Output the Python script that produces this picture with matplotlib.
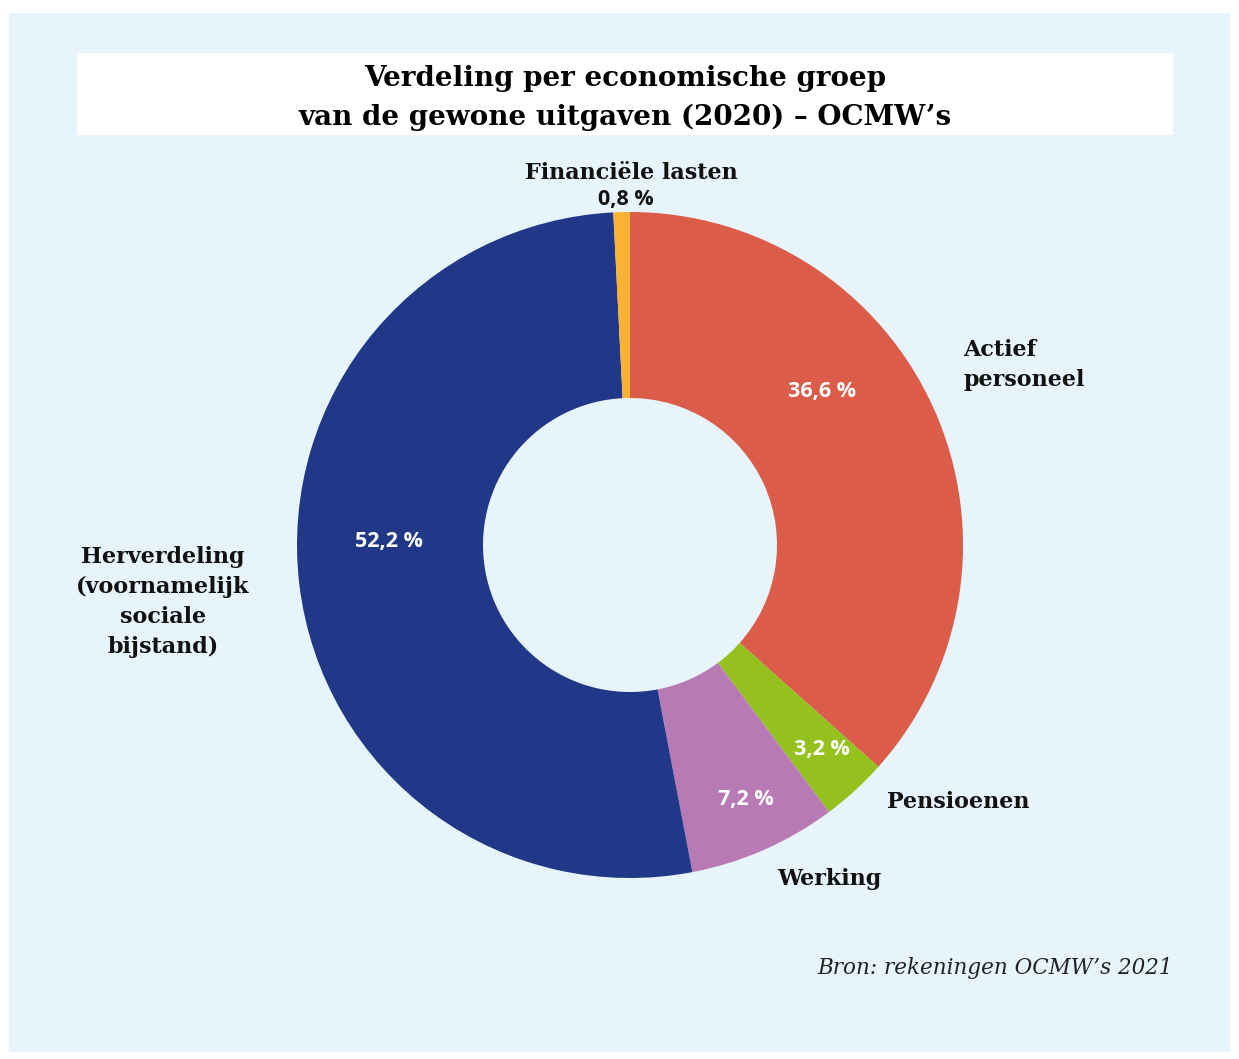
import matplotlib
matplotlib.use('Agg')
import matplotlib.pyplot as plt
from matplotlib.patches import Rectangle

# Expenditure shares per economic group (%), clockwise from 12 o'clock
groups = ['Actief personeel', 'Pensioenen', 'Werking',
          'Herverdeling (voornamelijk sociale bijstand)', 'Financiële lasten']
shares = [36.6, 3.2, 7.2, 52.2, 0.8]
share_labels = ['36,6 %', '3,2 %', '7,2 %', '52,2 %', '0,8 %']
colors = ['#DB5C48', '#95C11F', '#B77AB4', '#213787', '#F9B233']

W, H = 1239, 1059
BG = '#E7F4FC'
SERIF = ['DejaVu Serif']
SANS = ['Open Sans', 'DejaVu Sans']

fig = plt.figure(figsize=(W / 100, H / 100), dpi=100)
fig.patch.set_facecolor('white')
ax = fig.add_axes([0, 0, 1, 1])

def py(y):
    # pixel rows count from the top
    return H - y

# panel background and title box
ax.add_patch(Rectangle((9, py(1052)), 1221, 1039, facecolor=BG, edgecolor='none', zorder=0))
ax.add_patch(Rectangle((77, py(135)), 1096, 82, facecolor='white', edgecolor='none', zorder=1))

ax.text(625, py(78), 'Verdeling per economische groep', ha='center', va='center',
        fontsize=20, fontweight='bold', family=SERIF, zorder=2)
ax.text(625, py(117), 'van de gewone uitgaven (2020) \u2013 OCMW\u2019s', ha='center', va='center',
        fontsize=20, fontweight='bold', family=SERIF, zorder=2)

# donut
cx, cy, r_out, r_in = 630, 545, 333, 147
ax.pie(shares, colors=colors, startangle=90, counterclock=False,
       center=(cx, py(cy)), radius=r_out, frame=True,
       wedgeprops=dict(width=r_out - r_in, edgecolor='none', linewidth=0))
ax.set_xlim(0, W)
ax.set_ylim(0, H)
ax.set_aspect('equal')
ax.axis('off')

# value labels inside the ring
inner_pos = {0: (822, 392), 1: (822, 750), 2: (746, 800), 3: (389, 542)}
for i, (x, y) in inner_pos.items():
    ax.text(x, py(y), share_labels[i], ha='center', va='center', color='white',
            fontsize=15.5, fontweight='bold', family=SANS, zorder=3)

# category labels outside the ring
lab = dict(fontsize=16, fontweight='bold', family=SERIF, color='#111111', zorder=3)
ax.text(631, py(173), 'Financiële lasten', ha='center', va='center', **lab)
ax.text(626, py(200), share_labels[4], ha='center', va='center', color='#111111',
        fontsize=15.5, fontweight='bold', family=SANS)
ax.text(963, py(365), 'Actief\npersoneel', ha='left', va='center', linespacing=1.5, **lab)
ax.text(887, py(802), 'Pensioenen', ha='left', va='center', **lab)
ax.text(777, py(879), 'Werking', ha='left', va='center', **lab)
ax.text(163, py(602), 'Herverdeling\n(voornamelijk\nsociale\nbijstand)', ha='center',
        va='center', linespacing=1.45, **lab)

ax.text(1173, py(968), 'Bron: rekeningen OCMW\u2019s 2021', ha='right', va='center',
        fontsize=15.5, style='italic', family=SERIF, color='#222222')

fig.savefig('out.png', dpi=100, facecolor='white')
